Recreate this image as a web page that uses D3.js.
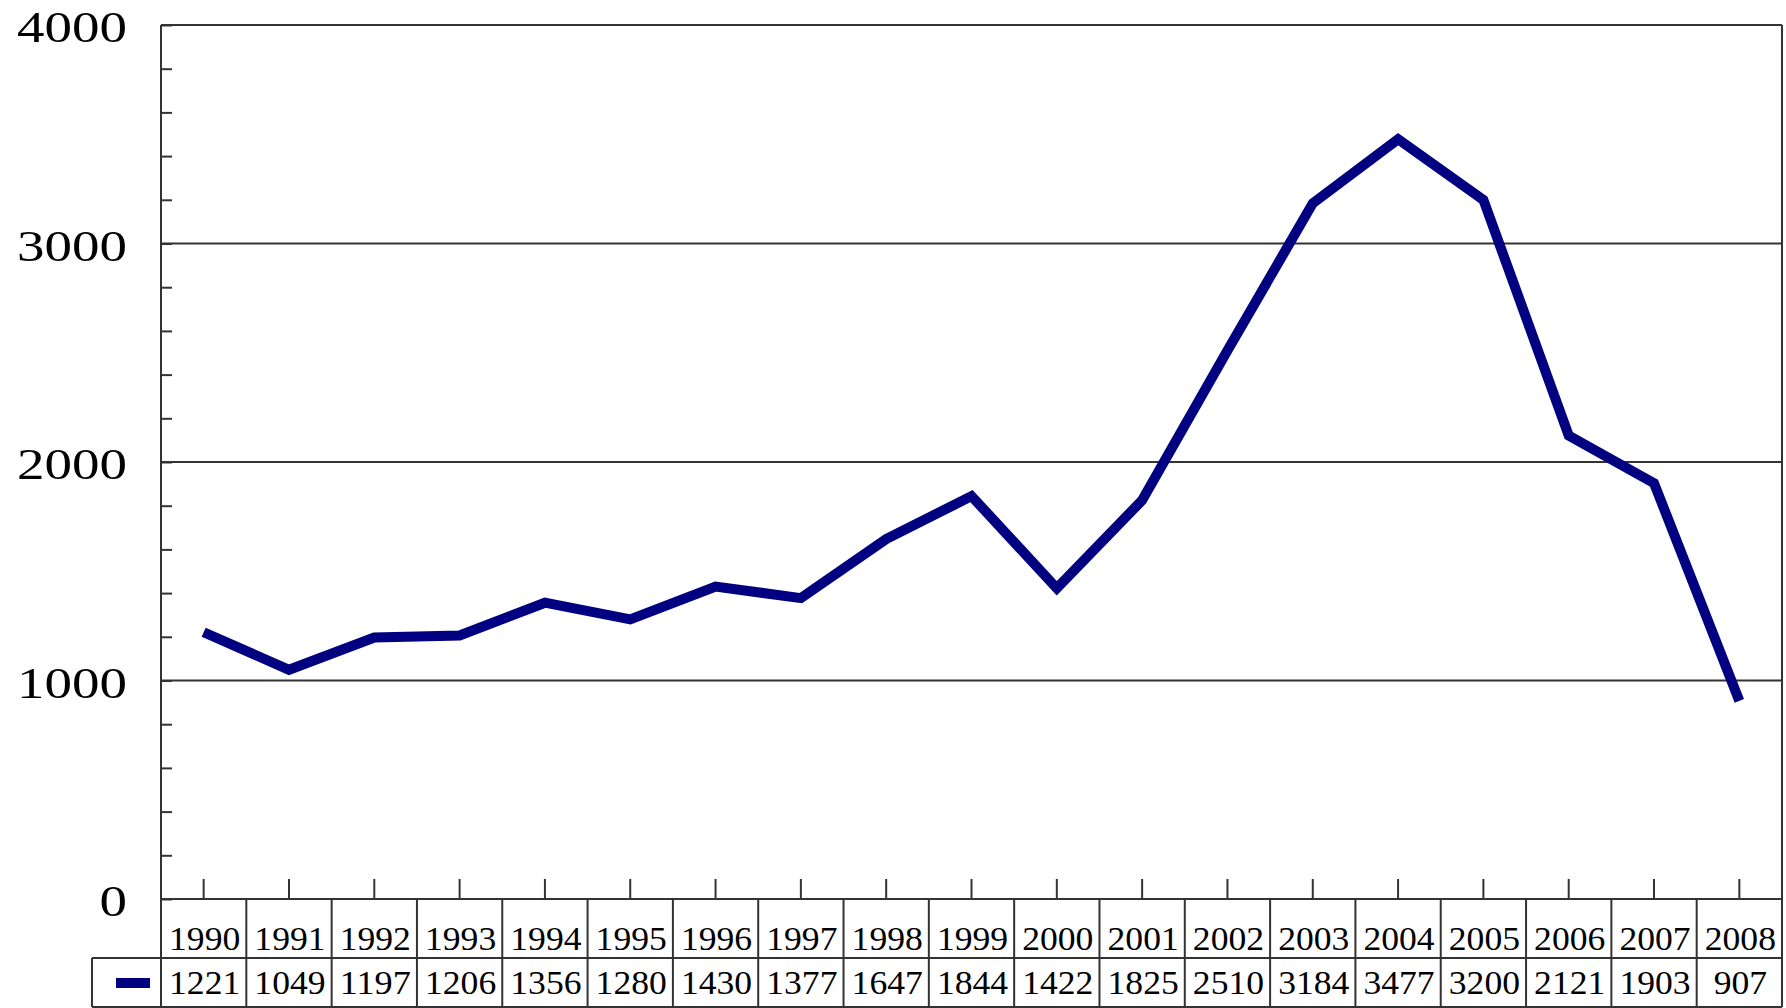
<!DOCTYPE html>
<html>
<head>
<meta charset="utf-8">
<script src="https://cdn.jsdelivr.net/npm/d3@7"></script>
<style>
  body { margin: 0; background: #fff; }
  text { font-family: "Liberation Serif", "DejaVu Serif", serif; fill: #000; }
</style>
</head>
<body>
<svg></svg>
<script>
let years = ["1990", "1991", "1992", "1993", "1994", "1995", "1996", "1997", "1998", "1999",
             "2000", "2001", "2002", "2003", "2004", "2005", "2006", "2007", "2008"]
let values = [1221, 1049, 1197, 1206, 1356, 1280, 1430, 1377, 1647, 1844,
              1422, 1825, 2510, 3184, 3477, 3200, 2121, 1903, 907]
let yTicks = [0, 1000, 2000, 3000, 4000]

let width = 1786
let height = 1008
let plotLeft = 161
let plotRight = 1782
let plotTop = 25
let plotBottom = 899
let rowMid = 958
let tableBottom = 1007
let legendLeft = 92
let lineColor = "#333"

let svg = d3.select("svg")
    .attr("width", width)
    .attr("height", height)

let xScale = d3.scaleBand()
    .domain(years)
    .range([plotLeft, plotRight])

let yScale = d3.scaleLinear()
    .domain([0, 4000])
    .range([plotBottom, plotTop])

// gridlines at the thousands
svg.append("g")
    .selectAll("line")
    .data(yTicks.slice(1, -1))
    .enter()
    .append("line")
    .attr("x1", plotLeft)
    .attr("x2", plotRight)
    .attr("y1", d => yScale(d))
    .attr("y2", d => yScale(d))
    .attr("stroke", lineColor)
    .attr("stroke-width", 2)

// y axis: minor ticks every 200, labels on thousands
let minor = d3.range(0, 4001, 200)
let yAxis = d3.axisLeft(yScale)
    .tickValues(minor)
    .tickSize(-11)
    .tickPadding(34)
    .tickFormat(d => yTicks.includes(d) ? d : "")

let yg = svg.append("g")
    .attr("transform", "translate(" + plotLeft + ",0)")
    .call(yAxis)
yg.select(".domain").remove()
yg.selectAll(".tick line").attr("stroke", lineColor).attr("stroke-width", 2)
yg.selectAll(".tick text")
    .attr("font-size", 44)
    .attr("fill", "#000")
    .attr("dy", "0.38em")
    .each(function (d) {
        if (yTicks.includes(d)) {
            d3.select(this)
                .attr("textLength", String(d).length * 27.5)
                .attr("lengthAdjust", "spacingAndGlyphs")
        }
    })

// x ticks pointing up at category centres
let xAxis = d3.axisBottom(xScale)
    .tickSize(-20)
    .tickFormat("")
let xg = svg.append("g")
    .attr("transform", "translate(0," + plotBottom + ")")
    .call(xAxis)
xg.select(".domain").remove()
xg.selectAll(".tick line").attr("stroke", lineColor).attr("stroke-width", 2)

// frame and table rules
let frame = [
    [plotLeft, plotTop, plotRight, plotTop],
    [plotRight, plotTop, plotRight, tableBottom],
    [plotLeft, plotTop, plotLeft, tableBottom],
    [plotLeft, plotBottom, plotRight, plotBottom],
    [legendLeft, rowMid, plotRight, rowMid],
    [legendLeft, tableBottom, plotRight, tableBottom],
    [legendLeft, rowMid, legendLeft, tableBottom]
]
svg.append("g")
    .selectAll("line")
    .data(frame)
    .enter()
    .append("line")
    .attr("x1", d => d[0])
    .attr("y1", d => d[1])
    .attr("x2", d => d[2])
    .attr("y2", d => d[3])
    .attr("stroke", lineColor)
    .attr("stroke-width", 2)

// table column separators
svg.append("g")
    .selectAll("line")
    .data(years.slice(1))
    .enter()
    .append("line")
    .attr("x1", d => xScale(d))
    .attr("x2", d => xScale(d))
    .attr("y1", plotBottom)
    .attr("y2", tableBottom)
    .attr("stroke", lineColor)
    .attr("stroke-width", 2)

// table text
let cellText = (data, y) => {
    svg.append("g")
        .selectAll("text")
        .data(data)
        .enter()
        .append("text")
        .attr("x", (d, i) => xScale(years[i]) + xScale.bandwidth() / 2 + 1)
        .attr("y", y)
        .attr("text-anchor", "middle")
        .attr("font-size", 34)
        .attr("textLength", d => String(d).length * 17.8)
        .attr("lengthAdjust", "spacingAndGlyphs")
        .text(d => d)
}
cellText(years, 950)
cellText(values, 994)

// legend swatch
svg.append("rect")
    .attr("x", 116)
    .attr("y", 978)
    .attr("width", 34)
    .attr("height", 10)
    .attr("fill", "#000080")

// data line
let line = d3.line()
    .x((d, i) => xScale(years[i]) + xScale.bandwidth() / 2)
    .y(d => yScale(d))

svg.append("path")
    .datum(values)
    .attr("d", line)
    .attr("fill", "none")
    .attr("stroke", "#000080")
    .attr("stroke-width", 10)
    .attr("stroke-linejoin", "miter")
</script>
</body>
</html>
